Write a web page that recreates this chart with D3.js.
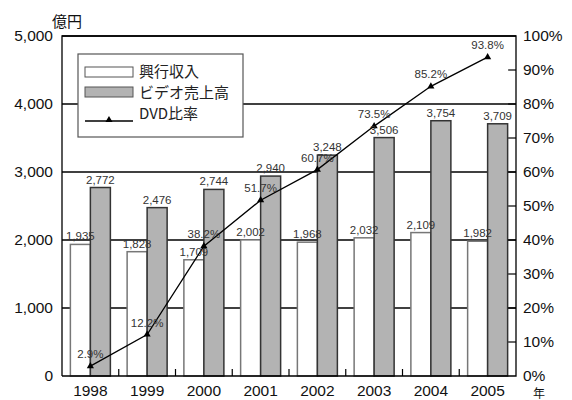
<!DOCTYPE html>
<html>
<head>
<meta charset="utf-8">
<script src="https://cdn.jsdelivr.net/npm/d3@7/dist/d3.min.js"></script>
<style>
  html, body { margin: 0; padding: 0; background: #fff; }
  svg { display: block; }
  text { font-family: "Liberation Sans", Arial, sans-serif; }
  .jp { font-family: "Noto Sans CJK JP", sans-serif; }
</style>
</head>
<body>
<svg id="chart" width="572" height="400"></svg>
<script>
// Box office vs. video sales (100 million yen) and DVD share
const years = ["1998", "1999", "2000", "2001", "2002", "2003", "2004", "2005"];
const boxOffice = [1935, 1828, 1709, 2002, 1968, 2032, 2109, 1982];
const videoSales = [2772, 2476, 2744, 2940, 3248, 3506, 3754, 3709];
const dvdShare = [2.9, 12.2, 38.2, 51.7, 60.7, 73.5, 85.2, 93.8];
const leftTicks = [0, 1000, 2000, 3000, 4000, 5000];
const rightTicks = [0, 10, 20, 30, 40, 50, 60, 70, 80, 90, 100];
const legendLabels = ["興行収入", "ビデオ売上高", "DVD比率"];

const svg = d3.select("#chart");
const L = 62, R = 516, T = 36, B = 376;

const x = d3.scaleBand().domain(years).range([L, R]).padding(0);
const y = d3.scaleLinear().domain([0, 5000]).range([B, T]);
const yp = d3.scaleLinear().domain([0, 100]).range([B, T]);
const barW = 20;
const fmt = d3.format(",");

// horizontal grid lines
svg.append("g").selectAll("line")
  .data(leftTicks.filter(d => d > 0))
  .join("line")
  .attr("x1", L).attr("x2", R)
  .attr("y1", d => y(d)).attr("y2", d => y(d))
  .attr("stroke", "#000").attr("stroke-width", 1.3);

// bottom tick marks between categories
svg.append("g").selectAll("line")
  .data(years.slice(1))
  .join("line")
  .attr("x1", d => x(d)).attr("x2", d => x(d))
  .attr("y1", B - 7).attr("y2", B)
  .attr("stroke", "#000").attr("stroke-width", 1.2);

// box office bars (white)
svg.append("g").selectAll("rect")
  .data(years)
  .join("rect")
  .attr("x", d => x(d) + x.bandwidth() / 2 - barW)
  .attr("width", barW)
  .attr("y", (d, i) => y(boxOffice[i]))
  .attr("height", (d, i) => B - y(boxOffice[i]))
  .attr("fill", "#fff").attr("stroke", "#777").attr("stroke-width", 1.5);

// video sales bars (gray)
svg.append("g").selectAll("rect")
  .data(years)
  .join("rect")
  .attr("x", d => x(d) + x.bandwidth() / 2)
  .attr("width", barW)
  .attr("y", (d, i) => y(videoSales[i]))
  .attr("height", (d, i) => B - y(videoSales[i]))
  .attr("fill", "#b3b3b3").attr("stroke", "#333").attr("stroke-width", 1.5);

// right axis inward ticks
svg.append("g").selectAll("line")
  .data(rightTicks.filter(d => d > 0 && d < 100))
  .join("line")
  .attr("x1", R - 8).attr("x2", R)
  .attr("y1", d => yp(d)).attr("y2", d => yp(d))
  .attr("stroke", "#000").attr("stroke-width", 1.2);

// frame
svg.append("path")
  .attr("d", `M${L},${B}V${T}H${R}V${B}H${L}`)
  .attr("fill", "none").attr("stroke", "#000").attr("stroke-width", 1.3);

// DVD share line
const cx = d => x(d) + x.bandwidth() / 2;
svg.append("path")
  .datum(years)
  .attr("d", d3.line().x(d => cx(d)).y((d, i) => yp(dvdShare[i])))
  .attr("fill", "none").attr("stroke", "#000").attr("stroke-width", 1.3);

svg.append("g").selectAll("path")
  .data(years)
  .join("path")
  .attr("d", d3.symbol(d3.symbolTriangle, 22))
  .attr("transform", (d, i) => `translate(${cx(d)},${yp(dvdShare[i])})`)
  .attr("fill", "#000");

// value labels
const lab = svg.append("g").attr("font-size", 11.5).attr("fill", "#333").attr("text-anchor", "middle");
lab.selectAll(".bo").data(years).join("text")
  .attr("x", d => cx(d) - barW / 2)
  .attr("y", (d, i) => y(boxOffice[i]) - 4)
  .text((d, i) => fmt(boxOffice[i]));
lab.selectAll(".vs").data(years).join("text")
  .attr("x", d => cx(d) + barW / 2)
  .attr("y", (d, i) => y(videoSales[i]) - 4)
  .text((d, i) => fmt(videoSales[i]));
lab.selectAll(".pc").data(years).join("text")
  .attr("x", d => cx(d))
  .attr("y", (d, i) => yp(dvdShare[i]) - 8)
  .text((d, i) => dvdShare[i].toFixed(1) + "%");

// left axis labels
svg.append("g").selectAll("text")
  .data(leftTicks)
  .join("text")
  .attr("x", 53).attr("y", d => y(d)).attr("dy", "0.35em")
  .attr("text-anchor", "end").attr("font-size", 15.5).attr("fill", "#111")
  .text(d => fmt(d));

// right axis labels
svg.append("g").selectAll("text")
  .data(rightTicks)
  .join("text")
  .attr("x", 523).attr("y", d => yp(d)).attr("dy", "0.35em")
  .attr("text-anchor", "start").attr("font-size", 15.5).attr("fill", "#111")
  .text(d => d + "%");

// year labels
svg.append("g").selectAll("text")
  .data(years)
  .join("text")
  .attr("x", d => cx(d)).attr("y", 396)
  .attr("text-anchor", "middle").attr("font-size", 15.5).attr("fill", "#111")
  .text(d => d);

// unit labels
svg.append("text").attr("class", "jp").attr("x", 52).attr("y", 27)
  .attr("font-size", 15).attr("fill", "#111").text("億円");
svg.append("text").attr("class", "jp").attr("x", 533).attr("y", 398)
  .attr("font-size", 12).attr("fill", "#111").text("年");

// legend
const lg = svg.append("g");
lg.append("rect").attr("x", 78).attr("y", 54).attr("width", 165).attr("height", 83)
  .attr("fill", "#fff").attr("stroke", "#555").attr("stroke-width", 1.2);
lg.append("rect").attr("x", 85).attr("y", 67).attr("width", 48).attr("height", 10)
  .attr("fill", "#fff").attr("stroke", "#555").attr("stroke-width", 1);
lg.append("rect").attr("x", 85).attr("y", 87).attr("width", 48).attr("height", 10)
  .attr("fill", "#b3b3b3").attr("stroke", "#555").attr("stroke-width", 1);
lg.append("line").attr("x1", 85).attr("x2", 133).attr("y1", 121).attr("y2", 121)
  .attr("stroke", "#000").attr("stroke-width", 1.3);
lg.append("path").attr("d", d3.symbol(d3.symbolTriangle, 22))
  .attr("transform", "translate(109,120)").attr("fill", "#000");
lg.selectAll("text.lt").data(legendLabels).join("text")
  .attr("class", "jp")
  .attr("x", 139).attr("y", (d, i) => 72 + i * 21).attr("dy", "0.35em")
  .attr("font-size", 15).attr("fill", "#222")
  .text(d => d);
</script>
</body>
</html>
